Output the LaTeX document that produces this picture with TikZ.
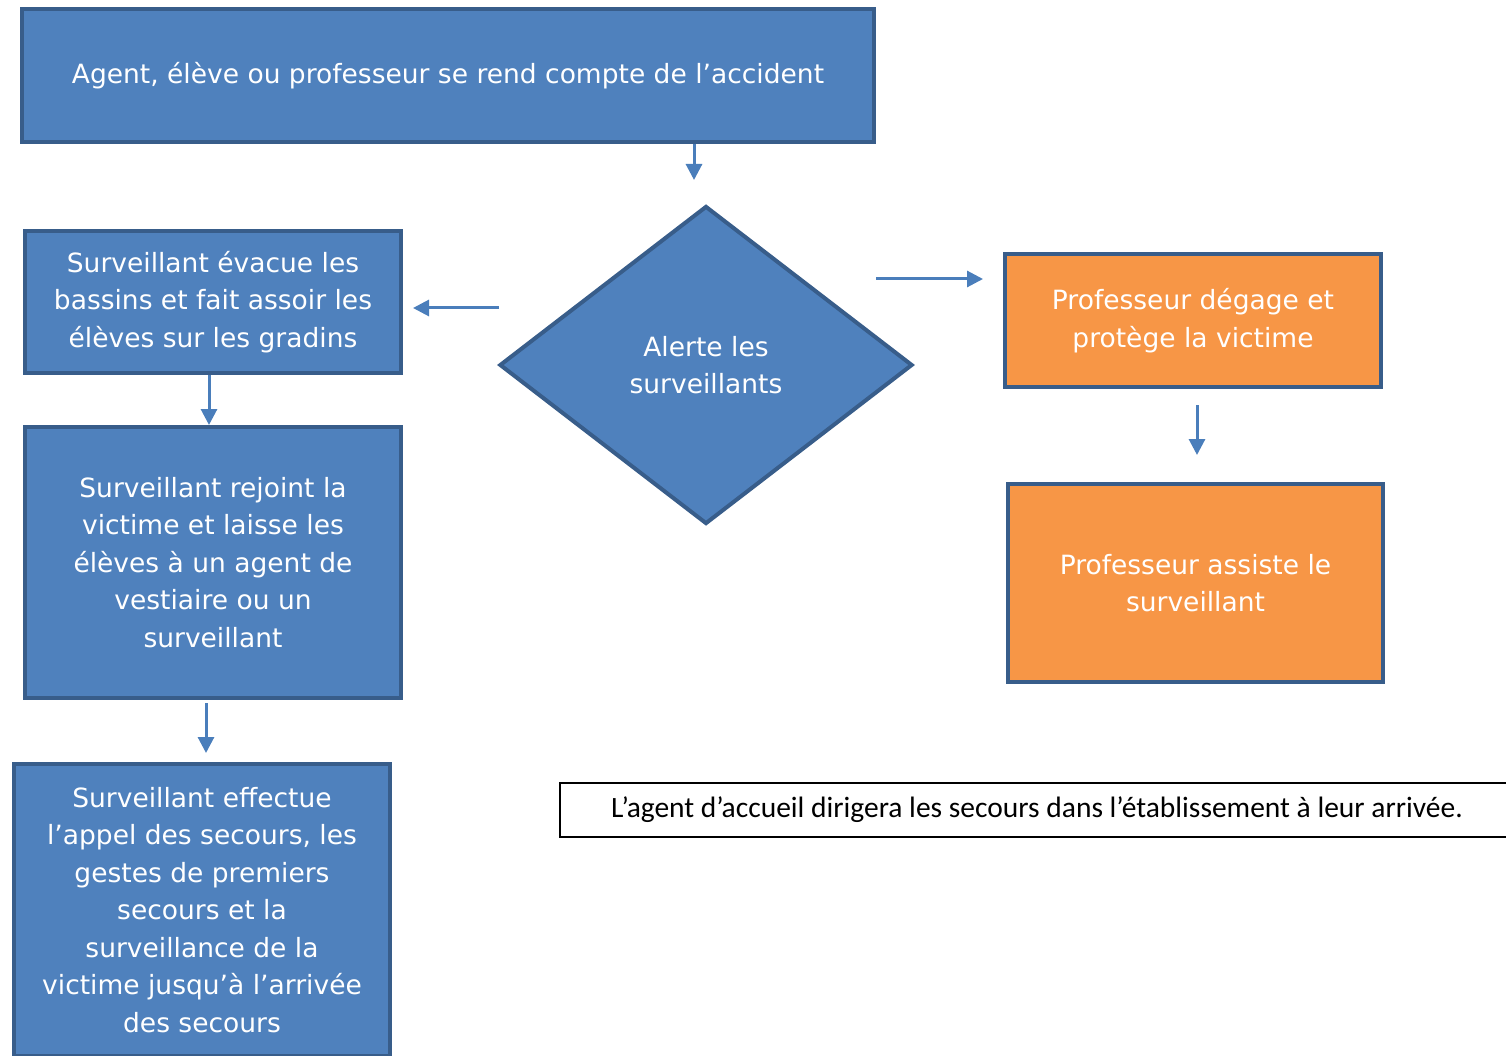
\documentclass[tikz,border=0pt]{standalone}
\usepackage{fontspec}
\setmainfont{DejaVu Sans}
\newfontfamily\notefont{Carlito}
\usetikzlibrary{shapes, arrows.meta, positioning}
\definecolor{boxblue}{HTML}{4F81BD}
\definecolor{edgeblue}{HTML}{385D8A}
\definecolor{boxorange}{HTML}{F79646}
\definecolor{flowblue}{HTML}{4A7EBB}
\tikzstyle{process} = [rectangle, draw=edgeblue, line width=4pt, fill=boxblue, text=white, align=center, inner sep=0pt, font=\fontsize{26.5}{37.5}\selectfont]
\tikzstyle{prof} = [process, fill=boxorange]
\tikzstyle{decision} = [diamond, draw=edgeblue, line width=4pt, fill=boxblue, text=white, align=center, inner sep=0pt, font=\fontsize{26.5}{37.5}\selectfont]
\tikzstyle{note} = [rectangle, draw=black, line width=2pt, align=center, inner sep=0pt, font=\notefont\fontsize{29.5}{34}\selectfont]
\tikzstyle{flow} = [draw=flowblue, line width=3pt, -{Triangle[length=16pt,width=16pt]}]

\begin{document}
\begin{tikzpicture}[x=1pt, y=-1pt]
\useasboundingbox (0,0) rectangle (1506,1056);

\node (start) [process, minimum width=852, minimum height=133] at (448,75.5) {Agent, élève ou professeur se rend compte de l’accident};
\node (alert) [decision, minimum width=413, minimum height=318] at (706,365) {Alerte les\\surveillants};
\node (evac) [process, minimum width=376, minimum height=142] at (213,302) {Surveillant évacue les\\bassins et fait assoir les\\élèves sur les gradins};
\node (join) [process, minimum width=376, minimum height=271] at (213,562.5) {Surveillant rejoint la\\victime et laisse les\\élèves à un agent de\\vestiaire ou un\\surveillant};
\node (call) [process, minimum width=376, minimum height=292] at (202,910) {Surveillant effectue\\l’appel des secours, les\\gestes de premiers\\secours et la\\surveillance de la\\victime jusqu’à l’arrivée\\des secours};
\node (free) [prof, minimum width=376, minimum height=133] at (1193,320.5) {Professeur dégage et\\protège la victime};
\node (assist) [prof, minimum width=375, minimum height=198] at (1195.5,583) {Professeur assiste le\\surveillant};
\node (welcome) [note, minimum width=954, minimum height=54] at (1037,810) {L’agent d’accueil dirigera les secours dans l’établissement à leur arrivée.};

\coordinate (rightout) at (876,279);
\coordinate (leftout) at (499,308);

\draw[flow, shorten >=24pt] (start.south -| 694,0) -- (alert.north -| 694,0);
\draw[flow, shorten >=10pt] (leftout) -- (evac.east |- leftout);
\draw[flow, shorten >=20pt] (rightout) -- (free.west |- rightout);
\draw[flow, shorten <=16pt, shorten >=27pt] (free.south -| 1197,0) -- (assist.north -| 1197,0);
\draw[flow] (evac.south -| 209,0) -- (join.north -| 209,0);
\draw[flow, shorten <=3pt, shorten >=9pt] (join.south -| 206,0) -- (call.north -| 206,0);
\end{tikzpicture}
\end{document}
